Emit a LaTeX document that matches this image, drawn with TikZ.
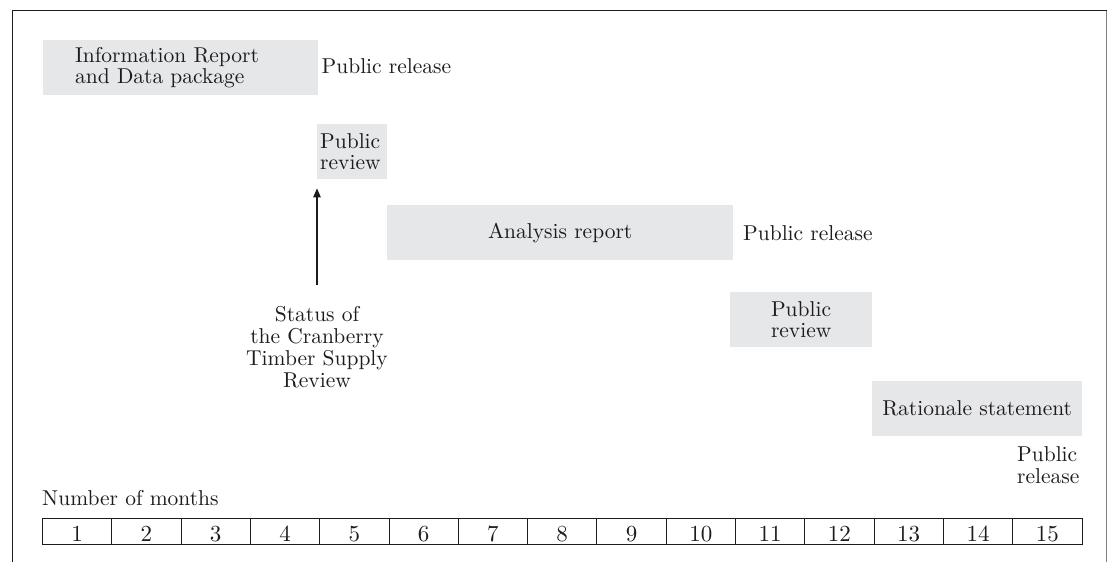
\documentclass[tikz,border=0pt]{standalone}
\usepackage{fontspec}
\setmainfont{lmroman10-regular}[Extension=.otf]
\usetikzlibrary{arrows.meta}
\definecolor{boxgray}{HTML}{E6E7E8}
\definecolor{ink}{HTML}{1E1B1C}
\begin{document}
\begin{tikzpicture}[x=1pt,y=-1pt,
  every node/.style={font=\fontsize{21.5}{21.8}\selectfont, text=ink},
  bar/.style={fill=boxgray, inner sep=0pt, anchor=north west, align=center},
  lbl/.style={inner sep=0pt, anchor=base west, align=left},
  cell/.style={draw=ink, line width=0.9pt, inner sep=0pt, anchor=north west,
    font=\fontsize{23}{23}\selectfont,
    minimum width=69.3pt, minimum height=26pt, text height=19.5pt, text depth=0pt},
  arr/.style={draw=ink, line width=1.1pt, -{Triangle[length=9pt,width=7.5pt]}}]
\useasboundingbox (0,0) rectangle (1108,562);
% frame
\draw[ink, line width=1pt] (12,562) -- (12,10.5) -- (1106.5,10.5);
\draw[gray, line width=1pt] (1106.5,10.5) -- (1106.5,562);
% bars
\node[bar, text width=211pt, inner xsep=32pt, align=left, minimum height=55pt] (info) at (43,40)
  {Information Report\\and Data package};
\node[bar, text width=64pt, inner xsep=3pt, align=left, minimum height=55pt] (pr2) at (317,124)
  {Public\\review};
\node[bar, minimum width=346pt, minimum height=55pt] (analysis) at (387,205) {Analysis report};
\node[bar, minimum width=142pt, minimum height=55pt, align=left] (pr3) at (730,292) {Public\\review};
\node[bar, minimum width=210pt, minimum height=55pt] (rat) at (872,381) {Rationale statement};
% labels
\node[lbl] (rel1) at (321.5,73.3) {Public release};
\node[lbl] (rel2) at (743,240.7) {Public release};
\node[lbl] (rel3) at (1017,483) {Public\\release};
\node[inner sep=0pt, anchor=base, align=center] (status) at (317,387)
  {Status of\\the Cranberry\\Timber Supply\\Review};
\draw[arr] ([yshift=21pt]status.north) -- ([yshift=-9pt]pr2.south west);
% timeline
\node[lbl] (nom) at (42,505) {Number of months};
\foreach \i in {1,...,15}{
  \node[cell] (m\i) at ({42+69.3*(\i-1)},518.3) {\i};
}
\end{tikzpicture}
\end{document}
